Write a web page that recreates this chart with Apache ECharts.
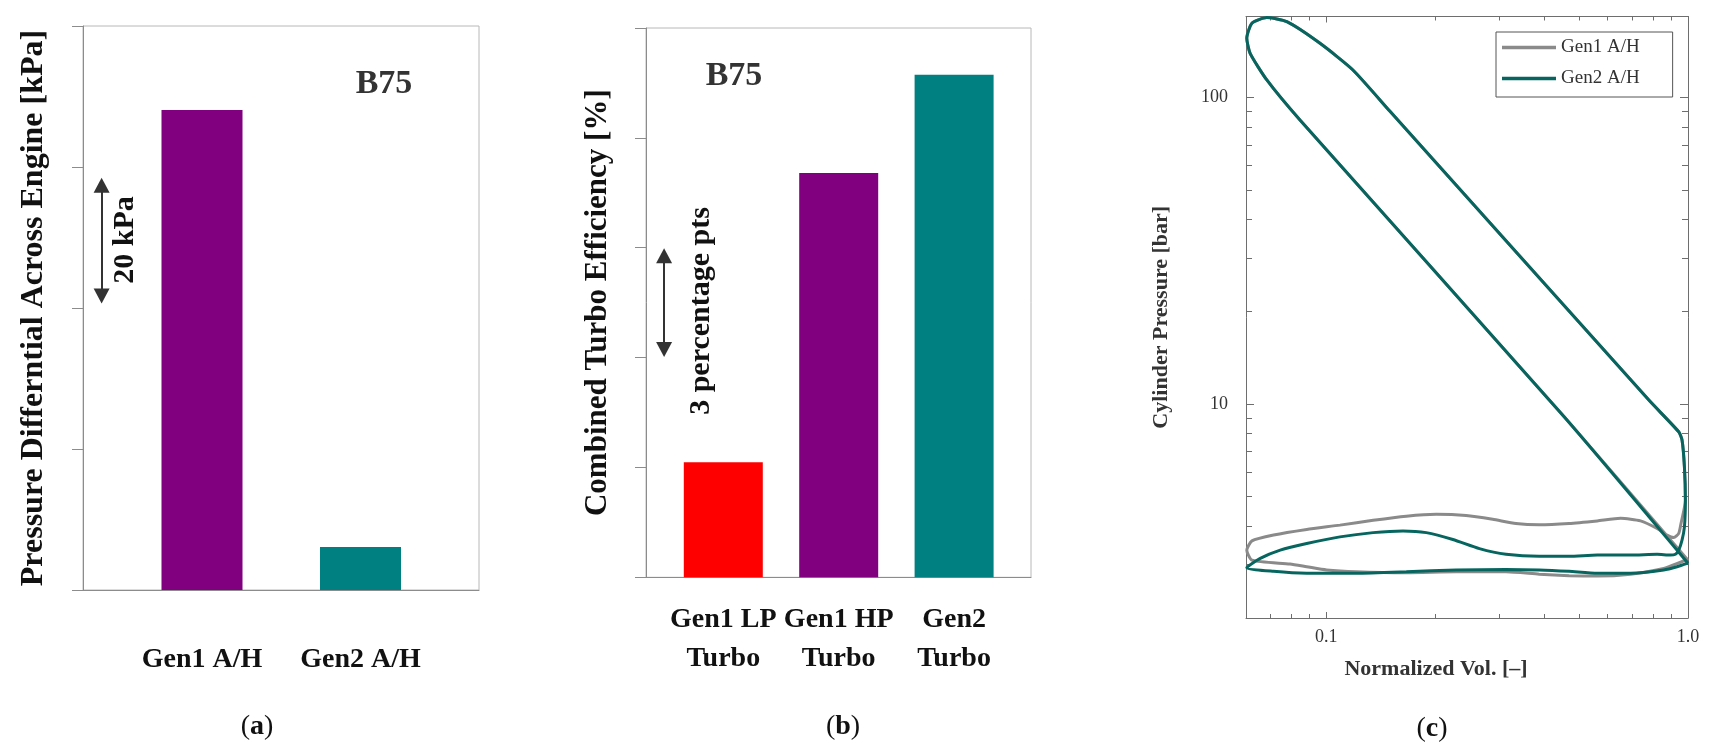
<!DOCTYPE html>
<html>
<head>
<meta charset="utf-8">
<script src="https://cdn.jsdelivr.net/npm/echarts@6/dist/echarts.min.js"></script>
<style>
html,body{margin:0;padding:0;background:#fff;}
#main{width:1709px;height:749px;}
</style>
</head>
<body>
<div id="main"></div>
<script>
// ---------- data ----------
// (a) pressure differential across engine [kPa] (tick step 20 kPa, labels hidden in source)
const aCategories = ['Gen1 A/H', 'Gen2 A/H'];
const aValues = [68.1, 6.1];
// (b) combined turbo efficiency, relative points (tick step 3 pts, labels hidden in source)
const bCategories = ['Gen1 LP\nTurbo', 'Gen1 HP\nTurbo', 'Gen2\nTurbo'];
const bValues = [3.14, 11.04, 13.72];
// (c) log-log P-V loops
const gen1Vol = [1.0, 0.4546, 0.0846, 0.0685, 0.0616, 0.0603, 0.0623, 0.0685, 0.0778, 0.0961, 0.1185, 0.1498,
  0.7794, 0.9426, 0.9627, 0.9775, 0.9836, 0.9565, 0.9428, 0.9133, 0.8752, 0.8214, 0.7394, 0.6514, 0.5613,
  0.4691, 0.3879, 0.3345, 0.2885, 0.2435, 0.2014, 0.1665, 0.1348, 0.1091, 0.0883, 0.0715, 0.0623, 0.0603,
  0.0623, 0.0794, 0.0883, 0.1002, 0.1213, 0.1665, 0.2287, 0.314, 0.3879, 0.4691, 0.5613, 0.694, 0.857, 0.973, 1.0];
const gen1P = [3.09, 9.08, 84.5, 114.2, 139.5, 156.2, 174.9, 182.5, 177, 150.4, 123.1, 90.4,
  10.29, 8.11, 7.62, 6.23, 4.85, 4.07, 3.78, 3.66, 3.73, 3.92, 4.15, 4.23, 4.15,
  4.07, 4.03, 4.07, 4.20, 4.32, 4.36, 4.30, 4.17, 4.02, 3.89, 3.73, 3.57, 3.33,
  3.09, 3.00, 2.94, 2.87, 2.83, 2.81, 2.83, 2.83, 2.78, 2.75, 2.74, 2.78, 2.90, 3.07, 3.09];
const gen2Vol = [1.0, 0.4546, 0.0846, 0.0685, 0.0616, 0.0603, 0.0623, 0.0685, 0.0778, 0.0961, 0.1185, 0.1498,
  0.7794, 0.9426, 0.9627, 0.9775, 0.9836, 0.9775, 0.9627, 0.9426, 0.9232, 0.8943, 0.8214, 0.694, 0.5613,
  0.4691, 0.3879, 0.314, 0.2651, 0.2239, 0.189, 0.163, 0.1348, 0.1091, 0.0883, 0.0746, 0.0657, 0.0603,
  0.0715, 0.0883, 0.1213, 0.1665, 0.2287, 0.314, 0.3879, 0.4691, 0.5613, 0.694, 0.857, 0.9326, 1.0];
const gen2P = [3.02, 9.08, 84.5, 114.2, 139.5, 156.2, 174.9, 182.5, 177, 150.4, 123.1, 90.4,
  10.29, 8.11, 7.62, 6.23, 4.85, 3.97, 3.59, 3.33, 3.23, 3.21, 3.23, 3.21, 3.21,
  3.18, 3.18, 3.23, 3.37, 3.61, 3.80, 3.85, 3.80, 3.68, 3.50, 3.33, 3.13, 2.92,
  2.84, 2.80, 2.80, 2.83, 2.87, 2.88, 2.87, 2.84, 2.80, 2.80, 2.87, 2.94, 3.02];
const cXTickLabels = ['0.1', '1.0'];
const cYTickLabels = ['10', '100'];
// annotation arrows (value-space ends)
const aArrowSpan = [57.4, 41.7];
const bArrowSpan = [8.78, 6.22];

// ---------- style ----------
const serif = 'Liberation Serif';
const aColors = ['#800080', '#008080'];
const bColors = ['#ff0000', '#800080', '#008080'];
const axisGray = '#8c8c8c';
const frameGray = '#b8b8b8';
const cGray = '#6e6e6e';

function matchLabel(v, labels) {
  for (const l of labels) {
    if (Math.abs(Math.log10(v) - Math.log10(parseFloat(l))) < 1e-6) return l;
  }
  return '';
}

const frameX = (g) => ({
  type: 'value', gridIndex: g, min: 0, max: 1,
  axisLine: {show: true, onZero: false, lineStyle: {color: axisGray, width: 1}},
  axisTick: {show: false}, axisLabel: {show: false}, splitLine: {show: false}
});
const frameY = (g, max, step, name, fs) => ({
  type: 'value', gridIndex: g, min: 0, max: max, interval: step,
  axisLine: {show: true, lineStyle: {color: axisGray, width: 1}},
  axisTick: {show: true, length: 11, lineStyle: {color: axisGray}},
  axisLabel: {show: false}, splitLine: {show: false},
  name: name, nameLocation: 'middle', nameGap: 33,
  nameTextStyle: {fontFamily: serif, fontWeight: 'bold', fontSize: fs, color: '#111'}
});
const catX = (g, data, margin) => ({
  type: 'category', gridIndex: g, data: data,
  axisLine: {show: false}, axisTick: {show: false}, splitLine: {show: false},
  axisLabel: {interval: 0, margin: margin, fontFamily: serif, fontWeight: 'bold', fontSize: 28, lineHeight: 39, color: '#111'}
});
const logAxisCommon = {
  axisLine: {show: true, onZero: false, lineStyle: {color: cGray, width: 1}},
  splitLine: {show: false}
};

const arrowSeries = (xi, yi, span) => ({
  type: 'line', xAxisIndex: xi, yAxisIndex: yi, data: [], silent: true,
  markLine: {
    silent: true, symbol: ['triangle', 'triangle'], symbolSize: [16, 15],
    lineStyle: {color: '#333', width: 2, type: 'solid'},
    label: {show: false}, emphasis: {disabled: true},
    data: [[{coord: [0.047, span[0]]}, {coord: [0.047, span[1]]}]]
  }
});

const txt = (x, y, text, font, fill, rot) => ({
  type: 'text', x: x, y: y, silent: true, rotation: rot || 0,
  style: {text: text, font: font, fill: fill, align: 'center', verticalAlign: 'middle'}
});
const panelLabel = (x, y, letter) => ({
  type: 'text', x: x, y: y, silent: true,
  style: {
    text: '{p|(}{l|' + letter + '}{p|)}', align: 'center', verticalAlign: 'middle',
    rich: {
      p: {fontFamily: serif, fontSize: 28, fill: '#111'},
      l: {fontFamily: serif, fontSize: 28, fontWeight: 'bold', fill: '#111'}
    }
  }
});

const option = {
  animation: false,
  backgroundColor: '#ffffff',
  grid: [
    {left: 83, top: 26, width: 396, height: 564, show: true, borderColor: frameGray, borderWidth: 1},
    {left: 122.75, top: 26, width: 317, height: 564},
    {left: 646, top: 28, width: 385, height: 549.3, show: true, borderColor: frameGray, borderWidth: 1},
    {left: 665.6, top: 28, width: 346.2, height: 549.3},
    {left: 1246, top: 16.5, width: 442, height: 601.5}
  ],
  xAxis: [
    frameX(0),
    catX(1, aCategories, 50),
    frameX(2),
    catX(3, bCategories, 23),
    Object.assign({
      type: 'log', gridIndex: 4, min: 0.06, max: 1, position: 'bottom',
      axisTick: {show: true, inside: true, length: 6, lineStyle: {color: cGray}},
      minorTick: {show: true, splitNumber: 9, length: 4, lineStyle: {color: cGray}},
      axisLabel: {margin: 10, fontFamily: serif, fontSize: 18, color: '#333',
        formatter: (v) => matchLabel(v, cXTickLabels)},
      name: 'Normalized Vol. [\u2013]', nameLocation: 'middle', nameGap: 40,
      nameTextStyle: {fontFamily: serif, fontWeight: 'bold', fontSize: 22, color: '#333', padding: [0, 62, 0, 0]}
    }, logAxisCommon),
    Object.assign({
      type: 'log', gridIndex: 4, min: 0.06, max: 1, position: 'top',
      axisTick: {show: true, inside: true, length: 6, lineStyle: {color: cGray}},
      minorTick: {show: true, splitNumber: 9, length: 4, lineStyle: {color: cGray}},
      axisLabel: {show: false}
    }, logAxisCommon)
  ],
  yAxis: [
    frameY(0, 80, 20, 'Pressure Differntial Across Engine [kPa]', 32),
    {type: 'value', gridIndex: 1, min: 0, max: 80, show: false},
    frameY(2, 15, 3, 'Combined Turbo Efficiency [%]', 31),
    {type: 'value', gridIndex: 3, min: 0, max: 15, show: false},
    Object.assign({
      type: 'log', gridIndex: 4, min: 2, max: 184, position: 'left',
      axisTick: {show: true, inside: true, length: 8, lineStyle: {color: cGray}},
      minorTick: {show: true, splitNumber: 9, length: 6, lineStyle: {color: cGray}},
      axisLabel: {margin: 18, fontFamily: serif, fontSize: 18, color: '#333',
        formatter: (v) => matchLabel(v, cYTickLabels)},
      name: 'Cylinder Pressure [bar]', nameLocation: 'middle', nameGap: 74,
      nameTextStyle: {fontFamily: serif, fontWeight: 'bold', fontSize: 22, color: '#333'}
    }, logAxisCommon),
    Object.assign({
      type: 'log', gridIndex: 4, min: 2, max: 184, position: 'right',
      axisTick: {show: true, inside: true, length: 8, lineStyle: {color: cGray}},
      minorTick: {show: true, splitNumber: 9, length: 6, lineStyle: {color: cGray}},
      axisLabel: {show: false}
    }, logAxisCommon)
  ],
  legend: {
    data: ['Gen1 A/H', 'Gen2 A/H'], orient: 'vertical', left: 1496, top: 32,
    icon: 'rect', itemWidth: 54, itemHeight: 3.5, itemGap: 12, padding: [6, 33, 9, 6],
    borderColor: '#555', borderWidth: 1, backgroundColor: '#fff', selectedMode: false,
    textStyle: {fontFamily: serif, fontSize: 19, color: '#333'}
  },
  series: [
    {
      name: 'aBars', type: 'bar', xAxisIndex: 1, yAxisIndex: 1, barWidth: 81,
      data: aValues.map((v, i) => ({value: v, itemStyle: {color: aColors[i]}}))
    },
    arrowSeries(0, 0, aArrowSpan),
    {
      name: 'bBars', type: 'bar', xAxisIndex: 3, yAxisIndex: 3, barWidth: 79,
      data: bValues.map((v, i) => ({value: v, itemStyle: {color: bColors[i]}}))
    },
    arrowSeries(2, 2, bArrowSpan),
    {
      name: 'Gen1 A/H', type: 'line', xAxisIndex: 4, yAxisIndex: 4,
      data: gen1Vol.map((v, i) => [v, gen1P[i]]),
      symbol: 'none', showSymbol: false, smooth: 0.2,
      lineStyle: {color: '#8a8a8a', width: 3}, itemStyle: {color: '#8a8a8a'}
    },
    {
      name: 'Gen2 A/H', type: 'line', xAxisIndex: 4, yAxisIndex: 4,
      data: gen2Vol.map((v, i) => [v, gen2P[i]]),
      symbol: 'none', showSymbol: false, smooth: 0.2,
      lineStyle: {color: '#07655f', width: 3}, itemStyle: {color: '#07655f'}
    }
  ],
  graphic: [
    txt(384, 84, 'B75', 'bold 34px "Liberation Serif"', '#333'),
    txt(734, 76, 'B75', 'bold 34px "Liberation Serif"', '#333'),
    txt(125, 240, '20 kPa', 'bold 30px "Liberation Serif"', '#111', Math.PI / 2),
    txt(701, 311, '3 percentage pts', 'bold 30px "Liberation Serif"', '#111', Math.PI / 2),
    panelLabel(257, 727, 'a'),
    panelLabel(843, 727, 'b'),
    panelLabel(1432, 729, 'c')
  ]
};

const chart = echarts.init(document.getElementById('main'));
chart.setOption(option);
</script>
</body>
</html>
